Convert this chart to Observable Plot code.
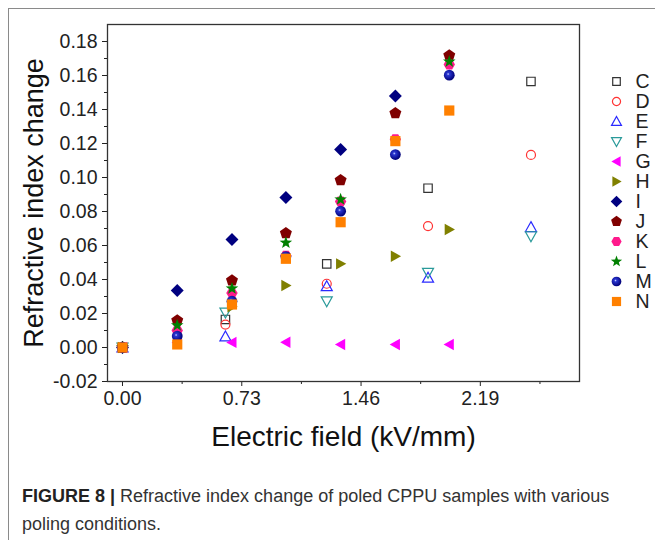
<!DOCTYPE html>
<html><head><meta charset="utf-8">
<script src="https://cdn.jsdelivr.net/npm/d3@7"></script>
<script src="https://cdn.jsdelivr.net/npm/@observablehq/plot@0.6"></script>
<style>
body{margin:0;background:#fff;width:655px;height:540px;overflow:hidden;position:relative;font-family:"Liberation Sans",Arial,sans-serif}
#frame{position:absolute;left:8px;top:8px;width:660px;height:540px;border-top:1.5px solid #8a8a8a;border-left:1.5px solid #8a8a8a}
#chart{position:absolute;left:0;top:0}
#legend{position:absolute;left:590px;top:0}
#caption{position:absolute;left:22px;top:482px;font-family:"Liberation Sans Narrow","Liberation Sans",Arial,sans-serif;font-size:18px;line-height:28px;color:#333;white-space:nowrap}
#caption b{color:#222}
</style></head><body>
<div id="frame"></div><div id="chart"></div><div id="legend"></div>
<div id="caption"><b>FIGURE 8 |</b> Refractive index change of poled CPPU samples with various<br>poling conditions.</div>
<script>
// ---- data ----
const seriesNames = ["C","D","E","F","G","H","I","J","K","L","M","N"];
const fieldCF = [0, 0.63, 1.25, 1.87, 2.50];
const fieldGN = [0, 0.335, 0.67, 1.0, 1.335, 1.67, 2.0];
const valC = [0, 0.0165, 0.0492, 0.0937, 0.1565];
const valD = [0, 0.0135, 0.0375, 0.0714, 0.1133];
const valE = [0, 0.0065, 0.0360, 0.0410, 0.0708];
const valF = [0, 0.0206, 0.0272, 0.0440, 0.0655];
const valG = [0, 0.0030, 0.0030, 0.0031, 0.0018, 0.0018, 0.0018];
const valH = [0, null, 0.0240, 0.0365, 0.0492, 0.0537, 0.0694];
const valI = [0, 0.0335, 0.0635, 0.0882, 0.1165, 0.1480, null];
const valJ = [0, 0.0159, 0.0394, 0.0672, 0.0984, 0.1378, 0.1718];
const valK = [0, 0.0100, 0.0320, 0.0540, 0.0859, 0.1225, 0.1665];
const valL = [0, 0.0130, 0.0347, 0.0616, 0.0871, null, 0.1682];
const valM = [0, 0.0067, 0.0272, 0.0535, 0.0802, 0.1135, 0.1602];
const valN = [0, 0.0018, 0.0253, 0.0522, 0.0737, 0.1214, 0.1394];
const xTicks = [0, 0.73, 1.46, 2.19];
const xMinor = [0.365, 1.095, 1.825, 2.555];
const yTicks = [-0.02, 0, 0.02, 0.04, 0.06, 0.08, 0.10, 0.12, 0.14, 0.16, 0.18];
const yMinor = [-0.01, 0.01, 0.03, 0.05, 0.07, 0.09, 0.11, 0.13, 0.15, 0.17];
const xLabel = "Electric field (kV/mm)";
const yLabel = "Refractive index change";

const values = {C: valC, D: valD, E: valE, F: valF, G: valG, H: valH, I: valI, J: valJ, K: valK, L: valL, M: valM, N: valN};
const fields = {C: fieldCF, D: fieldCF, E: fieldCF, F: fieldCF};
const table = seriesNames.flatMap(s => (values[s]).map((v, i) => ({s, x: (fields[s] || fieldGN)[i], y: v})).filter(d => d.y != null));

// ---- symbols ----
function sym(fn){ return {draw(ctx, size){ fn(ctx, Math.sqrt(size/Math.PI)); }}; }
function poly(c, pts){ c.moveTo(pts[0][0], pts[0][1]); for (let i = 1; i < pts.length; i++) c.lineTo(pts[i][0], pts[i][1]); c.closePath(); }
function regular(c, n, R, rot){ const pts=[]; for(let i=0;i<n;i++){const a=rot+i*2*Math.PI/n; pts.push([R*Math.cos(a), R*Math.sin(a)]);} poly(c, pts); }
const shapes = {
  square: sym((c,r)=>{const s=0.7*r; c.rect(-s,-s,2*s,2*s);}),
  circle: sym((c,r)=>{const s=0.75*r; c.moveTo(s,0); c.arc(0,0,s,0,2*Math.PI);}),
  triUp: sym((c,r)=>{const s=0.92*r; poly(c,[[0,-s],[s,0.8*s],[-s,0.8*s]]);}),
  triDown: sym((c,r)=>{const s=0.92*r; poly(c,[[0,s],[s,-0.8*s],[-s,-0.8*s]]);}),
  triLeft: sym((c,r)=>{const s=0.95*r; poly(c,[[-s,0],[0.8*s,-s],[0.8*s,s]]);}),
  triRight: sym((c,r)=>{const s=0.95*r; poly(c,[[s,0],[-0.8*s,-s],[-0.8*s,s]]);}),
  diamond: sym((c,r)=>{const s=1.08*r; poly(c,[[0,-s],[s,0],[0,s],[-s,0]]);}),
  pentagon: sym((c,r)=>regular(c,5,1.05*r,-Math.PI/2)),
  hexagon: sym((c,r)=>regular(c,6,0.95*r,0)),
  star: sym((c,r)=>{const pts=[];for(let i=0;i<10;i++){const a=-Math.PI/2+i*Math.PI/5;const R=i%2?0.45*r:1.1*r;pts.push([R*Math.cos(a),R*Math.sin(a)]);}poly(c,pts);}),
  ball: sym((c,r)=>{const s=0.9*r; c.moveTo(s,0); c.arc(0,0,s,0,2*Math.PI);}),
  block: sym((c,r)=>{const s=0.85*r; c.rect(-s,-s,2*s,2*s);})
};
const styles = {
  C: {symbol: shapes.square, color: "#333333", open: true},
  D: {symbol: shapes.circle, color: "#ff3333", open: true},
  E: {symbol: shapes.triUp, color: "#2a2aff", open: true},
  F: {symbol: shapes.triDown, color: "#2a9a9a", open: true},
  G: {symbol: shapes.triLeft, color: "#ff00ff"},
  H: {symbol: shapes.triRight, color: "#808000"},
  I: {symbol: shapes.diamond, color: "#000080"},
  J: {symbol: shapes.pentagon, color: "#800000"},
  K: {symbol: shapes.hexagon, color: "#ff1a8c"},
  L: {symbol: shapes.star, color: "#008000"},
  M: {symbol: shapes.ball, color: "url(#ballGrad)"},
  N: {symbol: shapes.block, color: "#ff8000"}
};
function dotOpts(s, extra){
  const st = styles[s];
  return Object.assign({symbol: st.symbol, r: 6,
    fill: st.open ? "none" : st.color,
    stroke: st.open ? st.color : "none",
    strokeWidth: 1.2}, extra);
}
function addDefs(svg){
  const defs = d3.select(svg).insert("defs", ":first-child");
  const g = defs.append("radialGradient").attr("id", "ballGrad").attr("cx", "40%").attr("cy", "40%").attr("r", "60%");
  g.append("stop").attr("offset", "0%").attr("stop-color", "#c8d0ff");
  g.append("stop").attr("offset", "22%").attr("stop-color", "#2a36d0");
  g.append("stop").attr("offset", "100%").attr("stop-color", "#000078");
}

const font = '"Liberation Sans", Arial, sans-serif';
const fmt = d => d.toFixed(2);

const chart = Plot.plot({
  width: 655, height: 470,
  marginLeft: 107, marginTop: 24, marginRight: 76, marginBottom: 89,
  x: {domain: [-0.0918, 2.797]},
  y: {domain: [-0.02, 0.19]},
  style: {fontFamily: font, background: "transparent", color: "#222", overflow: "visible"},
  marks: [
    Plot.axisX({ticks: xTicks, tickFormat: fmt, tickSize: 5, tickPadding: 5, fontSize: 19.5, label: null}),
    Plot.axisX({ticks: xMinor, tickFormat: () => "", tickSize: 3, label: null}),
    Plot.axisY({ticks: yTicks, tickFormat: fmt, tickSize: 5, tickPadding: 5, fontSize: 19.5, label: null}),
    Plot.axisY({ticks: yMinor, tickFormat: () => "", tickSize: 3, label: null}),
    Plot.frame({stroke: "#333", strokeWidth: 1.3}),
    ...seriesNames.map(s => Plot.dot(table.filter(d => d.s === s), dotOpts(s, {x: "x", y: "y"}))),
    Plot.text([xLabel], {frameAnchor: "bottom", textAnchor: "middle", dy: 64, fontSize: 28, fill: "#111"}),
    Plot.text([yLabel], {frameAnchor: "left", textAnchor: "middle", rotate: -90, dx: -73, fontSize: 27, fill: "#111"})
  ]
});
addDefs(chart);
document.getElementById("chart").append(chart);

const legend = Plot.plot({
  width: 65, height: 320,
  marginTop: 76, marginBottom: 15, marginLeft: 26, marginRight: 20,
  x: {domain: [0, 1], axis: null},
  y: {domain: seriesNames, type: "point", padding: 0, axis: null},
  style: {fontFamily: font, background: "transparent", overflow: "visible"},
  marks: [
    ...seriesNames.map(s => Plot.dot([s], dotOpts(s, {x: () => 0, y: d => d, r: 5.4}))),
    Plot.text(seriesNames, {x: () => 1, y: d => d, text: d => d, textAnchor: "start", fontSize: 19.5, fill: "#222"})
  ]
});
addDefs(legend);
document.getElementById("legend").append(legend);
</script>
</body></html>
